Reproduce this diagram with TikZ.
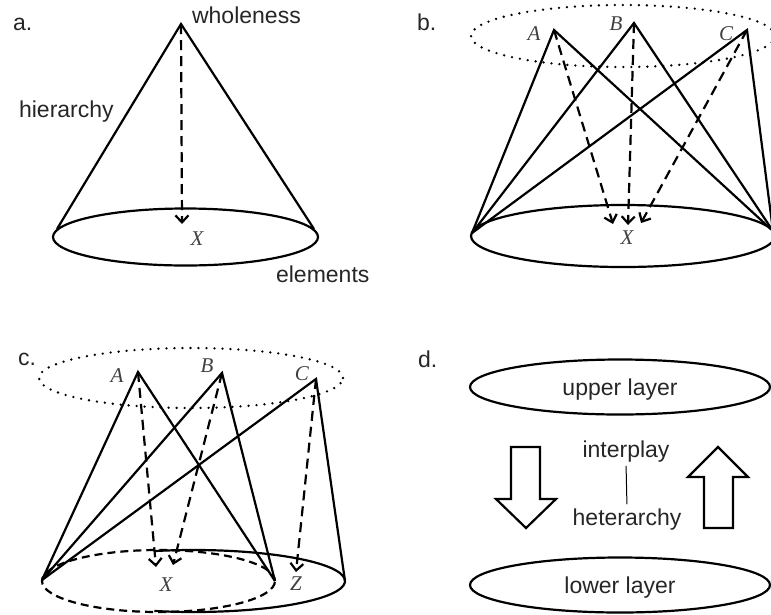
\documentclass[tikz,border=0pt]{standalone}
\usepackage{fontspec}
\setmainfont{Liberation Sans}
\newfontfamily\tmsfont{Liberation Serif}
\usetikzlibrary{arrows.meta,shapes.geometric}

\begin{document}
\begin{tikzpicture}[x=1pt, y=-1pt, line width=2.2pt,
	every node/.style={font=\fontsize{23}{27}\selectfont, text=black!85, inner sep=0pt},
	>={Straight Barb[length=7pt, width=13pt]},
	cone/.style={line join=miter},
	flow/.style={->, dash pattern=on 10pt off 6pt},
	rim/.style={line width=2.6pt, dash pattern=on 0pt off 8pt, line cap=round},
	pnt/.style={font=\tmsfont\itshape\fontsize{21}{24}\selectfont, text=black!75},
	layer/.style={draw, ellipse, minimum width=300pt, minimum height=55pt, text height=22pt, text depth=5pt},
	block/.style={line join=miter}]
	\clip (0,0) rectangle (771,614);

	% a. one cone
	\node[anchor=base west] (la) at (12,30) {a.};
	\coordinate (aTop) at (181,24);
	\coordinate (aL) at (57,229);
	\coordinate (aR) at (314,229);
	\coordinate (aX) at (182,224);
	\draw (185.5,237) ellipse [x radius=132.5pt, y radius=28.5pt];
	\draw[cone] (aL) -- (aTop) -- (aR);
	\draw[flow] (aTop) -- (aX);
	\node[pnt] (xa) at (197,239) {X};
	\node[anchor=base west] (whole) at (191,23) {wholeness};
	\node[anchor=base west] (hier) at (18,117) {hierarchy};
	\node[anchor=base west] (elem) at (275,282) {elements};

	% b. three cones, one base
	\node[anchor=base west] (lb) at (416,30) {b.};
	\draw[rim] (623,36) ellipse [x radius=152pt, y radius=31pt];
	\draw (623,236) ellipse [x radius=152pt, y radius=31pt];
	\coordinate (bA) at (554,30);
	\coordinate (bB) at (634,23);
	\coordinate (bC) at (747,30);
	\coordinate (bL) at (472,233);
	\coordinate (bR) at (773,231);
	\coordinate (bXa) at (613,224);
	\coordinate (bXb) at (628,225);
	\coordinate (bXc) at (641,223);
	\foreach \p in {bA,bB,bC}
		\draw[cone] (bL) -- (\p) -- (bR);
	\draw[flow] (bA) -- (bXa);
	\draw[flow] (bB) -- (bXb);
	\draw[flow] (bC) -- (bXc);
	\node[pnt] (nbA) at (534,34) {A};
	\node[pnt] (nbB) at (616,24) {B};
	\node[pnt] (nbC) at (726,34) {C};
	\node[pnt] (nbX) at (627,238) {X};

	% c. cones on two bases
	\node[anchor=base west] (lc) at (17,365) {c.};
	\draw[rim] (191,378) ellipse [x radius=152pt, y radius=30pt];
	\draw[dash pattern=on 8pt off 5pt] (158.5,581) ellipse [x radius=116.5pt, y radius=31pt];
	\draw (193.5,581) ++(105:151.5pt and 31pt) arc[start angle=105, end angle=-105, x radius=151.5pt, y radius=31pt];
	\coordinate (cA) at (138,372);
	\coordinate (cB) at (222,373);
	\coordinate (cC) at (316,379);
	\coordinate (cL) at (42,580);
	\coordinate (cM) at (275,581);
	\coordinate (cR) at (345,581);
	\coordinate (cXa) at (156,567);
	\coordinate (cXb) at (173,565);
	\coordinate (cZ) at (296,572);
	\draw[cone] (cL) -- (cA) -- (cM);
	\draw[cone] (cL) -- (cB) -- (cM);
	\draw[cone] (cL) -- (cC) -- (cR);
	\draw[flow] (cA) -- (cXa);
	\draw[flow] (cB) -- (cXb);
	\draw[flow] (cC) -- (cZ);
	\node[pnt] (ncA) at (117,376) {A};
	\node[pnt] (ncB) at (207,366) {B};
	\node[pnt] (ncC) at (302,374) {C};
	\node[pnt] (ncX) at (166,585) {X};
	\node[pnt] (ncZ) at (296,584) {Z};

	% d. layers
	\node[anchor=base west] (ld) at (417,367) {d.};
	\node[layer] (up) at (620,387) {upper layer};
	\node[layer] (low) at (620,585) {lower layer};
	\draw[block] (511,447) -- (540,447) -- (540,499) -- (556,499) -- (526,528) -- (496,499) -- (511,499) -- cycle;
	\draw[block] (718,447) -- (748,477) -- (733,477) -- (733,528) -- (704,528) -- (704,477) -- (688,477) -- cycle;
	\node[anchor=base] (ip) at (626,457) {interplay};
	\node[anchor=base] (ht) at (627,525) {heterarchy};
	\draw[line width=1pt, shorten <=3pt, shorten >=3pt] (ip.south) -- (ht.north);
\end{tikzpicture}
\end{document}
